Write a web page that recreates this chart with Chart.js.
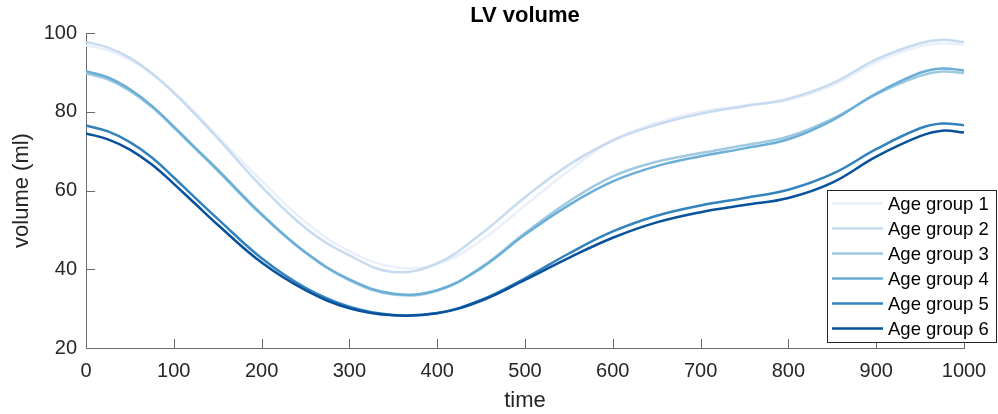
<!DOCTYPE html>
<html>
<head>
<meta charset="utf-8">
<title>LV volume</title>
<script src="https://cdn.jsdelivr.net/npm/chart.js@4.4.1/dist/chart.umd.min.js"></script>
<style>
  html, body { margin: 0; padding: 0; background: #ffffff; }
  #wrap { width: 998px; height: 414px; }
</style>
</head>
<body>
<div id="wrap"><canvas id="lv" width="998" height="414"></canvas></div>
<script>
// Sample times across one cardiac cycle
const times = [0, 25, 50, 75, 100, 125, 150, 200, 250, 300, 350, 400, 450, 500,
               550, 600, 650, 700, 750, 800, 850, 900, 950, 975, 1000];

// Mean LV volume (ml) per age group
const group1 = [96.9, 95.6, 93.2, 89.6, 85.1, 79.7, 73.8, 62.5, 52.0, 44.6, 40.6, 41.3, 47.3, 56.2,
                65.0, 72.8, 77.2, 80.0, 81.6, 83.0, 86.7, 92.6, 96.6, 97.4, 97.0];
const group2 = [97.7, 96.3, 93.7, 89.8, 84.8, 79.2, 73.3, 61.0, 50.5, 43.5, 39.3, 41.5, 49.0, 58.3,
                66.5, 72.7, 76.7, 79.5, 81.4, 83.3, 87.2, 93.3, 97.4, 98.3, 97.7];
const group3 = [89.8, 88.2, 85.3, 81.2, 76.0, 70.5, 65.0, 53.8, 44.2, 37.2, 33.6, 34.5, 40.5, 49.2,
                57.2, 63.6, 67.3, 69.5, 71.5, 73.7, 78.2, 84.4, 89.1, 90.2, 89.8];
const group4 = [90.3, 88.7, 85.7, 81.5, 76.2, 70.7, 65.3, 54.0, 44.3, 37.4, 33.8, 34.7, 40.3, 48.8,
                56.3, 62.3, 66.2, 68.7, 70.7, 73.0, 77.8, 84.6, 89.9, 91.0, 90.5];
const group5 = [76.5, 75.0, 72.3, 68.4, 63.3, 58.0, 52.8, 42.8, 35.3, 30.5, 28.4, 28.9, 32.2, 37.7,
                44.0, 49.6, 53.6, 56.2, 58.1, 60.2, 64.2, 70.5, 75.8, 77.0, 76.6];
const group6 = [74.5, 73.0, 70.4, 66.6, 61.7, 56.5, 51.3, 41.7, 34.7, 30.1, 28.3, 28.8, 32.0, 37.3,
                42.9, 48.0, 51.9, 54.5, 56.3, 58.1, 62.0, 68.6, 73.8, 75.2, 74.7];

const seriesLabels = ['Age group 1', 'Age group 2', 'Age group 3',
                      'Age group 4', 'Age group 5', 'Age group 6'];
const seriesValues = [group1, group2, group3, group4, group5, group6];
const seriesColors = ['#eaf0fb', '#c6dbef', '#9ecae1', '#6baed6', '#3182bd', '#08519c'];

const xTicks = [0, 100, 200, 300, 400, 500, 600, 700, 800, 900, 1000];
const yTicks = [20, 40, 60, 80, 100];

const AXIS_COLOR = '#6b6b6b';
const TEXT_COLOR = '#262626';
const FONT = '"Liberation Sans", Arial, Helvetica, sans-serif';

const datasets = seriesValues.map((vals, i) => ({
  label: seriesLabels[i],
  data: vals.map((v, k) => ({ x: times[k], y: v })),
  borderColor: seriesColors[i],
  backgroundColor: seriesColors[i],
  borderWidth: 2.5,
  pointRadius: 0,
  tension: 0.4,
  fill: false,
  order: seriesValues.length - 1 - i   // later groups drawn on top
}));

// Ticks pointing into the plot area
const inwardTicks = {
  id: 'inwardTicks',
  afterDatasetsDraw(chart) {
    const { ctx, chartArea, scales } = chart;
    const len = 9;
    ctx.save();
    ctx.strokeStyle = AXIS_COLOR;
    ctx.lineWidth = 1;
    ctx.beginPath();
    xTicks.forEach(t => {
      const px = Math.round(scales.x.getPixelForValue(t)) + 0.5;
      ctx.moveTo(px, chartArea.bottom);
      ctx.lineTo(px, chartArea.bottom - len);
    });
    yTicks.forEach(t => {
      const py = Math.round(scales.y.getPixelForValue(t)) + 0.5;
      ctx.moveTo(chartArea.left, py);
      ctx.lineTo(chartArea.left + len, py);
    });
    ctx.stroke();
    ctx.restore();
  }
};

// Boxed legend in the lower right corner
const boxedLegend = {
  id: 'boxedLegend',
  afterDraw(chart) {
    const { ctx } = chart;
    const left = 827.5, top = 190.5, width = 169, height = 152;
    const rowGap = 25, firstRow = 203.5;
    ctx.save();
    ctx.fillStyle = '#ffffff';
    ctx.fillRect(left, top, width, height);
    ctx.strokeStyle = '#262626';
    ctx.lineWidth = 1;
    ctx.strokeRect(left, top, width, height);
    ctx.font = '18.5px ' + FONT;
    ctx.textAlign = 'left';
    ctx.textBaseline = 'middle';
    chart.data.datasets.forEach((ds, i) => {
      const y = firstRow + i * rowGap;
      ctx.strokeStyle = ds.borderColor;
      ctx.lineWidth = 2.5;
      ctx.beginPath();
      ctx.moveTo(832, y);
      ctx.lineTo(883, y);
      ctx.stroke();
      ctx.fillStyle = '#000000';
      ctx.fillText(ds.label, 888, y + 1);
    });
    ctx.restore();
  }
};

new Chart(document.getElementById('lv'), {
  type: 'line',
  data: { datasets },
  options: {
    responsive: false,
    devicePixelRatio: 1,
    animation: false,
    layout: { padding: { left: 0, right: 34, top: 0, bottom: 0 } },
    plugins: {
      legend: { display: false },
      tooltip: { enabled: false },
      title: {
        display: true,
        text: 'LV volume',
        fullSize: false,
        color: '#000000',
        font: { family: FONT, size: 22, weight: 'bold', lineHeight: 1.2 },
        padding: { top: 3, bottom: 3.6 }
      }
    },
    scales: {
      x: {
        type: 'linear',
        min: 0,
        max: 1000,
        afterFit(scale) { scale.height = 66; },
        afterBuildTicks(scale) { scale.ticks = xTicks.map(v => ({ value: v })); },
        grid: { display: true, drawOnChartArea: false, drawTicks: false },
        border: { display: true, color: AXIS_COLOR, width: 1 },
        ticks: {
          color: TEXT_COLOR,
          font: { family: FONT, size: 20 },
          padding: 11,
          maxRotation: 0,
          autoSkip: false,
          callback: v => String(v)
        },
        title: {
          display: true,
          text: 'time',
          color: TEXT_COLOR,
          font: { family: FONT, size: 22, lineHeight: 1.2 },
          padding: { top: 0, bottom: 0 }
        }
      },
      y: {
        type: 'linear',
        min: 20,
        max: 100,
        afterFit(scale) { scale.width = 86; },
        afterBuildTicks(scale) { scale.ticks = yTicks.map(v => ({ value: v })); },
        grid: { display: true, drawOnChartArea: false, drawTicks: false },
        border: { display: true, color: AXIS_COLOR, width: 1 },
        ticks: {
          color: TEXT_COLOR,
          font: { family: FONT, size: 20 },
          padding: 9,
          autoSkip: false,
          callback: v => String(v)
        },
        title: {
          display: true,
          text: 'volume (ml)',
          color: TEXT_COLOR,
          font: { family: FONT, size: 22, lineHeight: 1.2 },
          padding: { top: 9, bottom: 0 }
        }
      }
    }
  },
  plugins: [inwardTicks, boxedLegend]
});
</script>
</body>
</html>
